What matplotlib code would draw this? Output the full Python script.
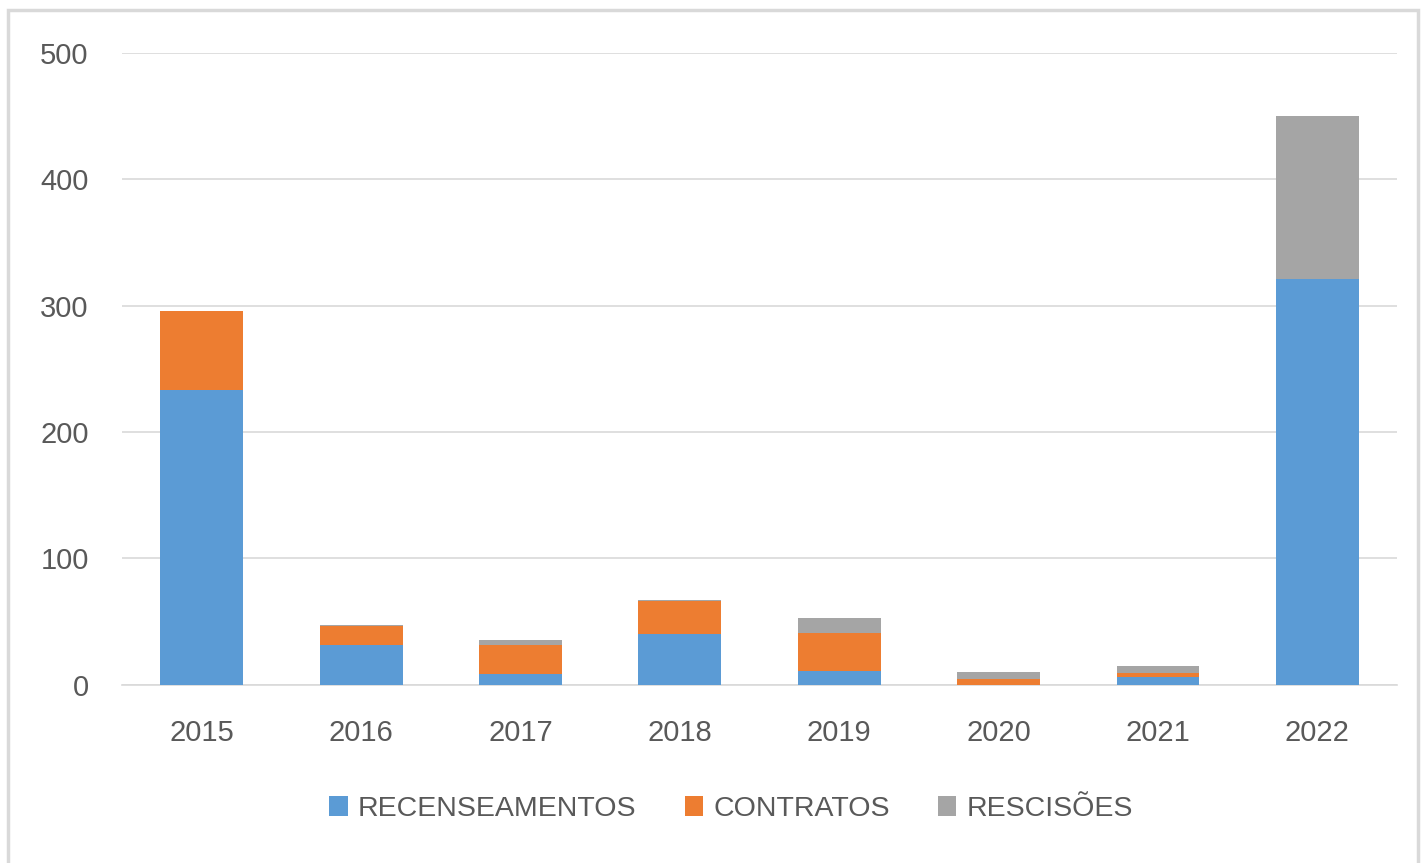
import matplotlib
matplotlib.use("Agg")
import matplotlib.pyplot as plt
from matplotlib.patches import Rectangle

years = ["2015", "2016", "2017", "2018", "2019", "2020", "2021", "2022"]
recenseamentos = [233, 31, 8, 40, 11, 0, 6, 321]
contratos = [63, 15, 23, 26, 30, 4, 3, 0]
rescisoes = [0, 1, 4, 1, 12, 6, 6, 129]

plt.rcParams["font.family"] = ["Liberation Sans", "DejaVu Sans"]
text_color = "#595959"

fig = plt.figure(figsize=(14.21, 8.63), dpi=100)
ax = fig.add_axes([122 / 1421, 1 - 684.5 / 863, 1275 / 1421, 631.5 / 863])

x = list(range(len(years)))
w = 0.52
bottom2 = recenseamentos
bottom3 = [a + b for a, b in zip(recenseamentos, contratos)]
ax.bar(x, recenseamentos, w, color="#5B9BD5", label="RECENSEAMENTOS", zorder=3)
ax.bar(x, contratos, w, bottom=bottom2, color="#ED7D31", label="CONTRATOS", zorder=3)
ax.bar(x, rescisoes, w, bottom=bottom3, color="#A5A5A5", label="RESCISÕES", zorder=3)

ax.set_xlim(-0.5, len(years) - 0.5)
ax.set_ylim(0, 500)
ax.set_yticks([0, 100, 200, 300, 400, 500])
ax.set_xticks(x)
ax.set_xticklabels(years)
ax.yaxis.grid(True, color="#D9D9D9", linewidth=1.2, zorder=0)
ax.set_axisbelow(True)
for s in ["top", "right", "left"]:
    ax.spines[s].set_visible(False)
ax.spines["bottom"].set_color("#D9D9D9")
ax.spines["bottom"].set_linewidth(1.2)
ax.tick_params(axis="both", length=0, labelsize=21, colors=text_color)
ax.tick_params(axis="y", pad=24)
ax.tick_params(axis="x", pad=25)

fig.legend(loc="center", bbox_to_anchor=(731 / 1421, 1 - 809 / 863), ncol=3,
           frameon=False, fontsize=20.5, handlelength=0.65, handleheight=0.65,
           handletextpad=0.35, columnspacing=1.7, labelcolor=text_color)

# outer chart frame
fig.patches.append(Rectangle((8 / 1421, -0.01), 1410 / 1421, 1 - 10 / 863 + 0.01,
                             transform=fig.transFigure, fill=False,
                             edgecolor="#D9D9D9", linewidth=2.5))

fig.savefig("out.png", dpi=100)
